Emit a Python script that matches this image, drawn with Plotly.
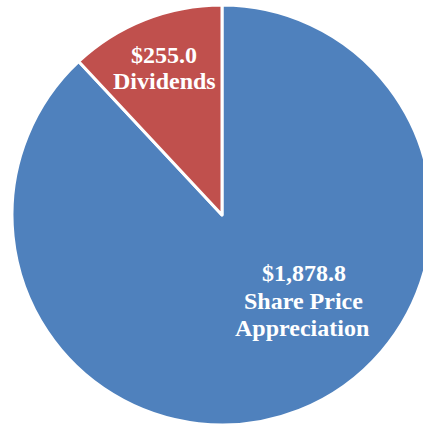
import plotly.graph_objects as go

# Total shareholder return components ($)
labels = ["Share Price Appreciation", "Dividends"]
values = [1878.8, 255.0]
value_text = ["$1,878.8", "$255.0"]
colors = ["#4F81BD", "#C0504D"]

# slice labels, one entry per text line: (text, x px, y px)
label_lines = [
    (value_text[1], 164, 55),
    ("Dividends", 164, 81),
    (value_text[0], 304, 273),
    ("Share Price", 303, 301),
    ("Appreciation", 302, 328),
]

W, H = 433, 425

fig = go.Figure(go.Pie(
    labels=labels, values=values, sort=False, direction="clockwise",
    rotation=0, textinfo="none", hoverinfo="label+value",
    marker=dict(colors=colors, line=dict(color="white", width=3)),
    domain=dict(x=[12 / W, 432 / W], y=[0, 420 / H]),
    showlegend=False,
))

font = dict(family="Liberation Serif", size=24, color="white", weight="bold")
for txt, x, y in label_lines:
    fig.add_annotation(x=x / W, y=1 - y / H, xref="paper", yref="paper",
                       xanchor="center", yanchor="middle", text=txt,
                       showarrow=False, font=font)

fig.update_layout(width=W, height=H, margin=dict(l=0, r=0, t=0, b=0),
                  paper_bgcolor="white", plot_bgcolor="white")
fig.write_html("out.html", config={"displayModeBar": False},
               post_script="document.body.style.margin='0';"
                           "document.body.style.overflow='hidden';")
